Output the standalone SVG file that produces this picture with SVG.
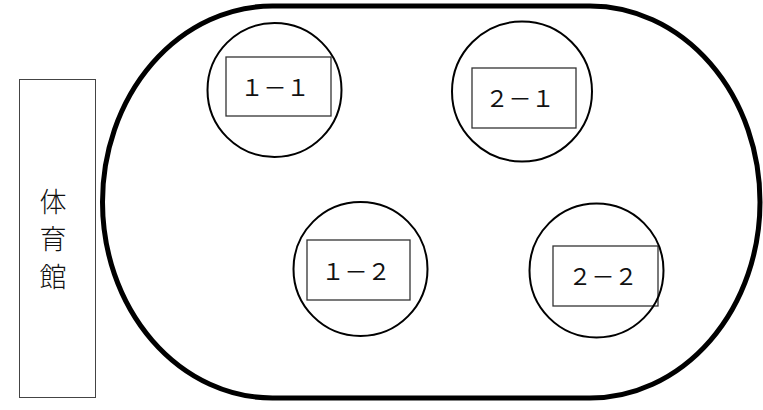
<svg xmlns="http://www.w3.org/2000/svg" width="763" height="410" viewBox="0 0 763 410">
<style>
.bg{fill:#fff}
.track{fill:none;stroke:#000;stroke-width:5}
.gym{fill:none;stroke:#444;stroke-width:1}
.ring{fill:none;stroke:#000;stroke-width:2}
.box{fill:none;stroke:#333;stroke-width:1.3}
.lbl{font-family:"Noto Sans CJK JP","Noto Sans",sans-serif;font-size:23px;fill:#111;text-anchor:middle}
.gymtxt{font-family:"Noto Sans CJK JP",sans-serif;font-size:27px;font-weight:300;fill:#111;text-anchor:middle}
</style>
<rect class="bg" x="0" y="0" width="763" height="410"/>
<g id="track">
<rect class="track" x="102.5" y="6" width="657.5" height="392" rx="170" ry="196"/>
</g>
<g id="gymnasium">
<rect class="gym" x="19.5" y="79.5" width="76" height="318"/>
<text class="gymtxt" x="53" y="212">体</text>
<text class="gymtxt" x="53" y="249">育</text>
<text class="gymtxt" x="53" y="287">館</text>
</g>
<g id="node-1-1">
<rect class="box" x="226" y="57" width="105" height="59"/>
<circle class="ring" cx="274.5" cy="90" r="67"/>
<text class="lbl" x="275" y="96">１－１</text>
</g>
<g id="node-2-1">
<rect class="box" x="472" y="68" width="104" height="60"/>
<circle class="ring" cx="522" cy="91.5" r="70"/>
<text class="lbl" x="520" y="107">２－１</text>
</g>
<g id="node-1-2">
<rect class="box" x="307" y="240" width="103" height="60"/>
<circle class="ring" cx="360.5" cy="269" r="67"/>
<text class="lbl" x="356" y="280">１－２</text>
</g>
<g id="node-2-2">
<rect class="box" x="553" y="246" width="105" height="60"/>
<circle class="ring" cx="596.5" cy="270.5" r="67"/>
<text class="lbl" x="603" y="285">２－２</text>
</g>
<g id="connectors"/>
</svg>
